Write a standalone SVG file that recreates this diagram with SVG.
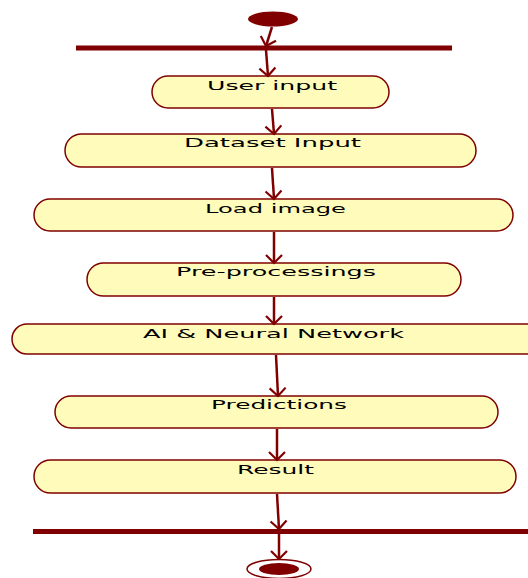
<svg xmlns="http://www.w3.org/2000/svg" width="528" height="578" viewBox="0 0 528 578">
<style>
.node rect{fill:#FFFCBB;stroke:#800000;stroke-width:1.5}
.node text{font-family:"DejaVu Sans",sans-serif;font-size:12.5px;fill:#000;text-anchor:middle}
.conn line{stroke:#800000;stroke-width:2.5;fill:none}
.bar{fill:#800000}
</style>
<defs>
<marker id="arr" markerUnits="userSpaceOnUse" orient="auto" markerWidth="20" markerHeight="20" refX="0" refY="0" viewBox="-10 -10 20 20" overflow="visible">
<path d="M-8,-8 L0,0 L-8,8" fill="none" stroke="#800000" stroke-width="2.2"/>
</marker>
</defs>
<g id="start"><ellipse cx="273" cy="19" rx="25" ry="7.5" fill="#800000"/></g>
<g id="fork1"><rect class="bar" x="76" y="45.5" width="376" height="5"/></g>
<g id="n1" class="node"><rect x="152" y="76" width="237" height="32" rx="16"/><text x="272" y="90" textLength="130" lengthAdjust="spacingAndGlyphs">User input</text></g>
<g id="n2" class="node"><rect x="65" y="134" width="411" height="33" rx="16.5"/><text x="272.5" y="147" textLength="177" lengthAdjust="spacingAndGlyphs">Dataset Input</text></g>
<g id="n3" class="node"><rect x="34" y="199" width="479" height="32" rx="16"/><text x="275.5" y="213" textLength="141" lengthAdjust="spacingAndGlyphs">Load image</text></g>
<g id="n4" class="node"><rect x="87" y="263" width="374" height="33" rx="16.5"/><text x="276" y="276" textLength="200" lengthAdjust="spacingAndGlyphs">Pre-processings</text></g>
<g id="n5" class="node"><rect x="12" y="324" width="530" height="30" rx="15"/><text x="273.5" y="338" textLength="261" lengthAdjust="spacingAndGlyphs">AI &amp; Neural Network</text></g>
<g id="n6" class="node"><rect x="55" y="396" width="443" height="32" rx="16"/><text x="279" y="409" textLength="136" lengthAdjust="spacingAndGlyphs">Predictions</text></g>
<g id="n7" class="node"><rect x="34" y="460" width="482" height="33" rx="16.5"/><text x="275.5" y="474" textLength="77" lengthAdjust="spacingAndGlyphs">Result</text></g>
<g id="join1"><rect class="bar" x="33" y="529" width="495" height="5"/></g>
<g id="end"><ellipse cx="279" cy="569" rx="32" ry="9.5" fill="none" stroke="#800000" stroke-width="1.5"/><ellipse cx="279" cy="569" rx="20" ry="6" fill="#800000"/></g>
<g id="connectors" class="conn">
<line x1="272" y1="27" x2="266" y2="46" marker-end="url(#arr)"/>
<line x1="266" y1="50" x2="268" y2="76" marker-end="url(#arr)"/>
<line x1="272" y1="109" x2="274" y2="134" marker-end="url(#arr)"/>
<line x1="272" y1="168" x2="274" y2="199" marker-end="url(#arr)"/>
<line x1="274" y1="232" x2="274" y2="263" marker-end="url(#arr)"/>
<line x1="274" y1="297" x2="274" y2="324" marker-end="url(#arr)"/>
<line x1="276" y1="355" x2="278" y2="396" marker-end="url(#arr)"/>
<line x1="277" y1="429" x2="277" y2="460" marker-end="url(#arr)"/>
<line x1="277" y1="494" x2="279" y2="529" marker-end="url(#arr)"/>
<line x1="279" y1="534" x2="279" y2="559" marker-end="url(#arr)"/>
</g>
</svg>
